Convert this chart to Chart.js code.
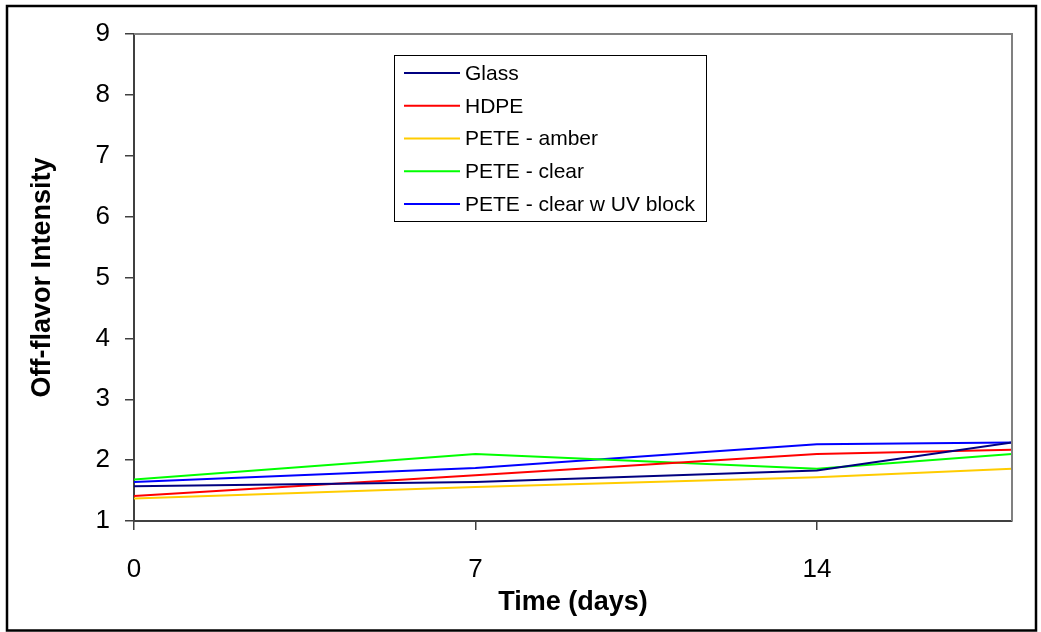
<!DOCTYPE html>
<html>
<head>
<meta charset="utf-8">
<title>Off-flavor Intensity</title>
<script src="https://cdn.jsdelivr.net/npm/chart.js@4/dist/chart.umd.min.js"></script>
<style>
  html, body { margin: 0; padding: 0; background: #fff; }
  canvas { display: block; }
</style>
</head>
<body>
<canvas id="chart" width="1041" height="632"></canvas>
<script>
// data
const days = [0, 7, 14, 18];
const seriesNames = ['Glass', 'HDPE', 'PETE - amber', 'PETE - clear', 'PETE - clear w UV block'];
const glass = [1.57, 1.64, 1.83, 2.29];
const hdpe = [1.41, 1.75, 2.10, 2.17];
const peteAmber = [1.37, 1.56, 1.72, 1.86];
const peteClear = [1.68, 2.10, 1.86, 2.10];
const peteUv = [1.64, 1.87, 2.26, 2.29];
const colors = ['#000080', '#ff0000', '#ffcc00', '#00ff00', '#0000ff'];

const allSeries = [glass, hdpe, peteAmber, peteClear, peteUv];

const datasets = allSeries.map((vals, i) => ({
	label: seriesNames[i],
	data: vals.map((v, j) => ({ x: days[j], y: v })),
	borderColor: colors[i],
	backgroundColor: colors[i],
	borderWidth: 2,
	pointRadius: 0,
	tension: 0,
	fill: false,
}));

const FONT = 'Arial, "Liberation Sans", sans-serif';

// outer frame + top/right plot border
const framePlugin = {
	id: 'frame',
	beforeDraw(chart) {
		const ctx = chart.ctx;
		ctx.save();
		ctx.fillStyle = '#fff';
		ctx.fillRect(0, 0, chart.width, chart.height);
		ctx.restore();
	},
	afterDraw(chart) {
		const ctx = chart.ctx;
		const a = chart.chartArea;
		ctx.save();
		ctx.strokeStyle = '#808080';
		ctx.lineWidth = 2;
		ctx.beginPath();
		ctx.moveTo(a.left, a.top);
		ctx.lineTo(a.right, a.top);
		ctx.lineTo(a.right, a.bottom);
		ctx.stroke();
		ctx.strokeStyle = '#000';
		ctx.lineWidth = 2.5;
		ctx.strokeRect(7, 6, 1029, 624.5);
		ctx.restore();
	}
};

// legend box inside the plot
const boxLegend = {
	id: 'boxLegend',
	afterDraw(chart) {
		const ctx = chart.ctx;
		const x = 394, y = 55, w = 312, h = 166;
		ctx.save();
		ctx.fillStyle = '#fff';
		ctx.fillRect(x, y, w, h);
		ctx.strokeStyle = '#000';
		ctx.lineWidth = 1;
		ctx.strokeRect(x + 0.5, y + 0.5, w, h);
		ctx.font = '21px ' + FONT;
		ctx.textBaseline = 'middle';
		ctx.fillStyle = '#000';
		chart.data.datasets.forEach((ds, i) => {
			const cy = 73 + i * 32.75;
			ctx.strokeStyle = ds.borderColor;
			ctx.lineWidth = 2;
			ctx.beginPath();
			ctx.moveTo(404, cy);
			ctx.lineTo(460, cy);
			ctx.stroke();
			ctx.fillText(ds.label, 465, cy + 1);
		});
		ctx.restore();
	}
};

new Chart(document.getElementById('chart'), {
	type: 'line',
	data: { datasets: datasets },
	options: {
		responsive: false,
		animation: false,
		layout: { padding: { left: 0, top: 34, right: 29, bottom: 0 } },
		plugins: {
			legend: { display: false },
			tooltip: { enabled: false },
		},
		scales: {
			x: {
				type: 'linear',
				min: 0,
				max: 18,
				afterFit(scale) { scale.height = 111; },
				border: { color: '#404040', width: 2 },
				grid: { drawOnChartArea: false, tickLength: 9, color: '#404040', lineWidth: 1.5 },
				ticks: {
					stepSize: 7,
					includeBounds: false,
					padding: 24,
					color: '#000',
					font: { family: FONT, size: 26 },
				},
				title: {
					display: true,
					text: 'Time (days)',
					color: '#000',
					font: { family: FONT, size: 27, weight: 'bold' },
					padding: { top: 0, bottom: 13 },
				},
			},
			y: {
				min: 1,
				max: 9,
				afterFit(scale) { scale.width = 134; },
				border: { color: '#404040', width: 2 },
				grid: { drawOnChartArea: false, tickLength: 9, color: '#404040', lineWidth: 1.5 },
				ticks: {
					stepSize: 1,
					padding: 15,
					color: '#000',
					font: { family: FONT, size: 26 },
				},
				title: {
					display: true,
					text: 'Off-flavor Intensity',
					color: '#000',
					font: { family: FONT, size: 27, weight: 'bold' },
					padding: { top: 26, bottom: 0 },
				},
			},
		},
	},
	plugins: [framePlugin, boxLegend],
});
</script>
</body>
</html>
